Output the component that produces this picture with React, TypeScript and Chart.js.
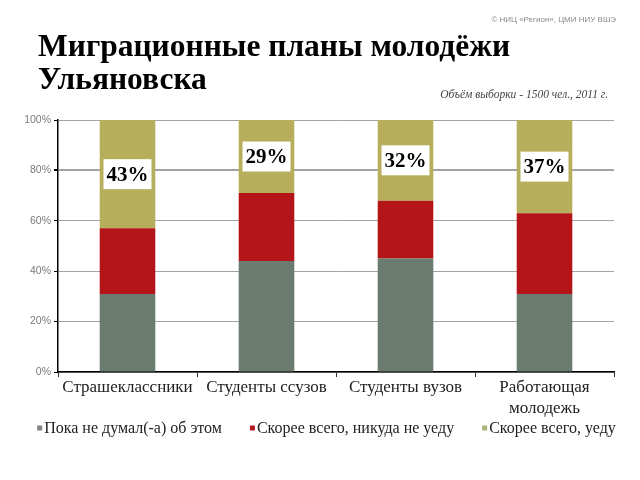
import React, { useEffect, useRef } from "react";
import { Chart, registerables } from "chart.js";

Chart.register(...registerables);

const categories: (string | string[])[] = [
  "Страшеклассники",
  "Студенты ссузов",
  "Студенты вузов",
  ["Работающая", "молодежь"],
];
const notThought = [31, 44, 45, 31];
const stay = [26, 27, 23, 32];
const leave = [43, 29, 32, 37];
const seriesNames = [
  "Пока не думал(-а) об этом",
  "Скорее всего, никуда не уеду",
  "Скорее всего, уеду",
];
const seriesColors = ["#6b7b70", "#b31518", "#b6ae5a"];
const legendMarkerColors = ["#7f8680", "#b01a22", "#a9b47a"];
const yTicks = [0, 20, 40, 60, 80, 100];
const titleLines = ["Миграционные планы молодёжи", "Ульяновска"];
const copyrightText = "© НИЦ «Регион», ЦМИ НИУ ВШЭ";
const sampleText = "Объём выборки - 1500 чел., 2011 г.";

const SERIF = "'Liberation Serif', 'Times New Roman', serif";
const SANS = "'Liberation Sans', Arial, sans-serif";

const textPlugin = {
  id: "textPlugin",
  afterDraw(chart: any) {
    const ctx = chart.ctx;
    ctx.save();
    // title
    ctx.fillStyle = "#000";
    ctx.font = `bold 31.5px ${SERIF}`;
    ctx.textAlign = "left";
    ctx.textBaseline = "alphabetic";
    ctx.fillText(titleLines[0], 38, 56);
    ctx.fillText(titleLines[1], 38, 89);

    ctx.fillStyle = "#8a8a8a";
    ctx.font = `8px ${SANS}`;
    ctx.textAlign = "right";
    ctx.textBaseline = "middle";
    ctx.fillText(copyrightText, 616, 20);

    ctx.fillStyle = "#444";
    ctx.font = `italic 11.5px ${SERIF}`;
    ctx.fillText(sampleText, 608, 95);

    // value boxes on the top segment
    const meta = chart.getDatasetMeta(2);
    meta.data.forEach((bar: any, i: number) => {
      const cx = bar.x;
      const cy = (bar.y + bar.base) / 2;
      ctx.fillStyle = "#fff";
      ctx.fillRect(cx - 24, cy - 15, 48, 30);
      ctx.fillStyle = "#000";
      ctx.font = `bold 21px ${SERIF}`;
      ctx.textAlign = "center";
      ctx.textBaseline = "middle";
      ctx.fillText(leave[i] + "%", cx, cy + 1);
    });

    // legend
    ctx.font = `16px ${SERIF}`;
    ctx.textAlign = "left";
    ctx.textBaseline = "middle";
    const marker = 5;
    const gapMarker = 2;
    const gapItems = 28;
    const widths = seriesNames.map((n) => marker + gapMarker + ctx.measureText(n).width);
    const total = widths.reduce((a, b) => a + b, 0) + gapItems * (seriesNames.length - 1);
    let x = 326.5 - total / 2;
    const ly = 428;
    seriesNames.forEach((n, i) => {
      ctx.fillStyle = legendMarkerColors[i];
      ctx.fillRect(x, ly - marker / 2, marker, marker);
      ctx.fillStyle = "#222";
      ctx.fillText(n, x + marker + gapMarker, ly + 1);
      x += widths[i] + gapItems;
    });
    ctx.restore();
  },
};

export default function App() {
  const ref = useRef<HTMLCanvasElement>(null);
  useEffect(() => {
    if (!ref.current) return;
    const chart = new Chart(ref.current, {
      type: "bar",
      data: {
        labels: categories as any,
        datasets: [
          { label: seriesNames[0], data: notThought, backgroundColor: seriesColors[0] },
          { label: seriesNames[1], data: stay, backgroundColor: seriesColors[1] },
          { label: seriesNames[2], data: leave, backgroundColor: seriesColors[2] },
        ],
      },
      options: {
        animation: false,
        responsive: true,
        maintainAspectRatio: false,
        layout: { padding: { top: 120, left: 0, right: 26, bottom: 0 } },
        datasets: { bar: { categoryPercentage: 1, barPercentage: 0.4 } },
        plugins: {
          title: { display: false },
          tooltip: { enabled: false },
          legend: { display: false },
        },
        scales: {
          x: {
            stacked: true,
            border: { color: "#000", width: 1.5 },
            afterFit: (scale: any) => {
              scale.height = 108;
            },
            grid: {
              drawOnChartArea: false,
              drawTicks: true,
              tickLength: 5,
              tickColor: "#333",
              offset: true,
            },
            ticks: {
              color: "#222",
              font: { family: SERIF, size: 17, lineHeight: 1.25 },
              maxRotation: 0,
              autoSkip: false,
              padding: 0,
            },
          },
          y: {
            stacked: true,
            min: 0,
            max: 100,
            border: { color: "#000", width: 1.5 },
            afterFit: (scale: any) => {
              scale.width = 58;
            },
            afterBuildTicks: (scale: any) => {
              scale.ticks = yTicks.map((v) => ({ value: v }));
            },
            grid: {
              color: "#a3a3a3",
              lineWidth: (c: any) => (c.tick && c.tick.value === 80 ? 2 : 1),
              drawTicks: true,
              tickLength: 4,
              tickColor: "#000",
            },
            ticks: {
              color: "#7a7a7a",
              font: { family: SANS, size: 10.5 },
              padding: 3,
              callback: (v: any) => v + "%",
            },
          },
        },
      },
      plugins: [textPlugin],
    });
    return () => chart.destroy();
  }, []);
  return (
    <div style={{ position: "absolute", left: 0, top: 0, width: 640, height: 480, background: "#fff" }}>
      <canvas ref={ref} />
    </div>
  );
}
